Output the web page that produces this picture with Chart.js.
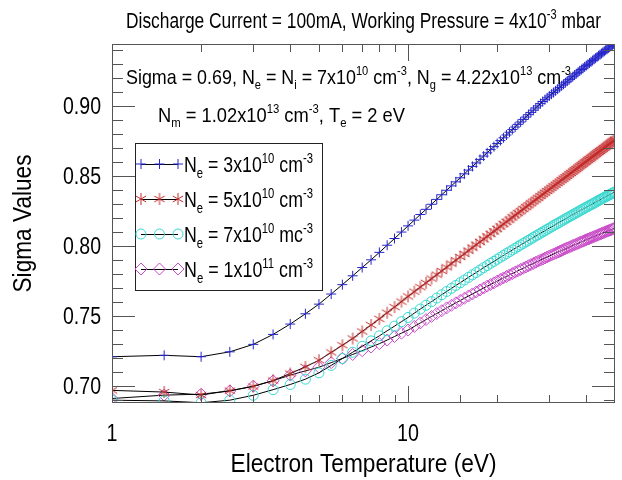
<!DOCTYPE html>
<html>
<head>
<meta charset="utf-8">
<script src="https://cdn.jsdelivr.net/npm/chart.js@4.4.1/dist/chart.umd.min.js"></script>
<style>
  body { margin: 0; background: #fff; }
  #wrap { width: 622px; height: 480px; }
</style>
</head>
<body>
<div id="wrap"><canvas id="sigma-chart" width="622" height="480"></canvas></div>
<script>
// Sigma vs electron temperature, four electron densities

const temperature = [
    1, 1.5, 2, 2.5, 3, 3.5, 4, 4.5, 5, 5.5,
    6, 6.5, 7, 7.5, 8, 8.5, 9, 9.5, 10, 10.5,
    11, 11.5, 12, 12.5, 13, 13.5, 14, 14.5, 15, 15.5,
    16, 16.5, 17, 17.5, 18, 18.5, 19, 19.5, 20, 20.5,
    21, 21.5, 22, 22.5, 23, 23.5, 24, 24.5, 25, 25.5,
    26, 26.5, 27, 27.5, 28, 28.5, 29, 29.5, 30, 30.5,
    31, 31.5, 32, 32.5, 33, 33.5, 34, 34.5, 35, 35.5,
    36, 36.5, 37, 37.5, 38, 38.5, 39, 39.5, 40, 40.5,
    41, 41.5, 42, 42.5, 43, 43.5, 44, 44.5, 45, 45.5,
    46, 46.5, 47, 47.5, 48, 48.5, 49, 49.5, 50
];

const sigmaNe3e10 = [
    .7210, .7220, .7210, .7245, .7298, .7369, .7443, .7516, .7585, .7657,
    .7724, .7787, .7846, .7901, .7954, .8005, .8053, .8099, .8143, .8184,
    .8224, .8261, .8297, .8332, .8365, .8397, .8428, .8457, .8486, .8514,
    .8541, .8567, .8592, .8617, .8641, .8664, .8687, .8708, .8730, .8751,
    .8771, .8791, .8811, .8830, .8848, .8867, .8884, .8902, .8919, .8936,
    .8952, .8968, .8984, .8999, .9015, .9030, .9043, .9056, .9069, .9082,
    .9094, .9106, .9118, .9130, .9142, .9153, .9164, .9175, .9186, .9197,
    .9207, .9218, .9228, .9238, .9248, .9258, .9267, .9277, .9286, .9295,
    .9304, .9313, .9322, .9331, .9339, .9348, .9356, .9364, .9372, .9380,
    .9388, .9396, .9403, .9411, .9418, .9426, .9433, .9440, .9447
];

const sigmaNe5e10 = [
    .6970, .6958, .6937, .6968, .6998, .7040, .7090, .7138, .7185, .7241,
    .7292, .7340, .7390, .7436, .7480, .7524, .7564, .7603, .7640, .7674,
    .7706, .7737, .7767, .7795, .7822, .7848, .7874, .7898, .7922, .7944,
    .7967, .7988, .8009, .8029, .8048, .8068, .8086, .8104, .8122, .8139,
    .8156, .8172, .8188, .8204, .8219, .8234, .8248, .8263, .8277, .8290,
    .8304, .8317, .8330, .8343, .8356, .8368, .8380, .8392, .8403, .8415,
    .8426, .8437, .8448, .8459, .8470, .8480, .8490, .8500, .8511, .8520,
    .8530, .8540, .8549, .8558, .8568, .8577, .8586, .8595, .8603, .8612,
    .8620, .8629, .8637, .8645, .8654, .8662, .8670, .8677, .8685, .8693,
    .8700, .8708, .8715, .8723, .8730, .8737, .8744, .8751, .8758
];

const sigmaNe7e10 = [
    .6900, .6895, .6882, .6900, .6935, .6975, .7012, .7050, .7095, .7148,
    .7197, .7242, .7284, .7323, .7359, .7395, .7428, .7460, .7490, .7521,
    .7550, .7577, .7603, .7628, .7652, .7675, .7697, .7718, .7738, .7757,
    .7776, .7794, .7811, .7828, .7845, .7860, .7876, .7890, .7905, .7919,
    .7932, .7946, .7958, .7971, .7983, .7995, .8007, .8018, .8029, .8040,
    .8050, .8061, .8071, .8081, .8090, .8100, .8109, .8118, .8127, .8136,
    .8145, .8153, .8161, .8169, .8177, .8185, .8193, .8200, .8208, .8215,
    .8222, .8229, .8236, .8243, .8250, .8257, .8263, .8270, .8276, .8282,
    .8289, .8294, .8300, .8306, .8312, .8318, .8324, .8329, .8335, .8340,
    .8346, .8351, .8356, .8361, .8366, .8371, .8376, .8381, .8386
];

const sigmaNe1e11 = [
    .6912, .6936, .6943, .6966, .7000, .7038, .7079, .7109, .7135, .7168,
    .7198, .7226, .7253, .7279, .7303, .7329, .7354, .7378, .7400, .7426,
    .7451, .7475, .7497, .7518, .7538, .7558, .7576, .7594, .7611, .7627,
    .7643, .7658, .7672, .7686, .7700, .7713, .7725, .7737, .7749, .7761,
    .7772, .7782, .7793, .7803, .7813, .7823, .7832, .7841, .7850, .7859,
    .7867, .7875, .7884, .7891, .7899, .7906, .7914, .7921, .7928, .7935,
    .7942, .7948, .7955, .7961, .7967, .7974, .7980, .7986, .7991, .7997,
    .8003, .8008, .8013, .8019, .8024, .8029, .8034, .8039, .8044, .8049,
    .8053, .8058, .8062, .8067, .8071, .8076, .8080, .8084, .8089, .8093,
    .8097, .8101, .8105, .8109, .8112, .8116, .8120, .8124, .8127
];

// text pieces: [text, 0 normal | 1 subscript | 2 superscript]
const seriesLabels = [
    [['N', 0], ['e', 1], [' = 3x10', 0], ['10', 2], [' cm', 0], ['-3', 2]],
    [['N', 0], ['e', 1], [' = 5x10', 0], ['10', 2], [' cm', 0], ['-3', 2]],
    [['N', 0], ['e', 1], [' = 7x10', 0], ['10', 2], [' mc', 0], ['-3', 2]],
    [['N', 0], ['e', 1], [' = 1x10', 0], ['11', 2], [' cm', 0], ['-3', 2]]
];

const titleText = [['Discharge Current = 100mA, Working Pressure = 4x10', 0], ['-3', 2], [' mbar', 0]];
const noteLine1 = [
    ['Sigma = 0.69, N', 0], ['e', 1], [' = N', 0], ['i', 1], [' = 7x10', 0], ['10', 2],
    [' cm', 0], ['-3', 2], [', N', 0], ['g', 1], [' = 4.22x10', 0], ['13', 2], [' cm', 0], ['-3', 2]
];
const noteLine2 = [
    ['N', 0], ['m', 1], [' = 1.02x10', 0], ['13', 2], [' cm', 0], ['-3', 2], [', T', 0], ['e', 1], [' = 2 eV', 0]
];
const xAxisTitle = 'Electron Temperature (eV)';
const yAxisTitle = 'Sigma Values';
const xLabelled = [1, 10];

const FONT = "'Liberation Sans', Arial, sans-serif";
const NARROW = 0.82;

// draws mixed normal/sub/superscript text, squeezed horizontally to look like a narrow face
function drawRich(ctx, segs, x, y, size, opts = {}) {
    const small = Math.round(size * 0.62);
    const parts = segs.map(([t, m]) => ({ t, m, f: (m ? small : size) + 'px ' + FONT }));
    let w = 0;
    parts.forEach(p => { ctx.font = p.f; p.w = ctx.measureText(p.t).width; w += p.w; });
    const sx = opts.width ? opts.width / w : NARROW;
    const total = w * sx;
    let start = x;
    if (opts.align === 'center') start = x - total / 2;
    if (opts.align === 'right') start = x - total;
    ctx.save();
    ctx.translate(start, y);
    ctx.scale(sx, 1);
    ctx.textAlign = 'left';
    ctx.textBaseline = 'alphabetic';
    let cx = 0;
    parts.forEach(p => {
        ctx.font = p.f;
        const dy = p.m === 1 ? size * 0.26 : p.m === 2 ? -size * 0.42 : 0;
        ctx.fillText(p.t, cx, dy);
        cx += p.w;
    });
    ctx.restore();
    return total;
}

// six-armed asterisk marker, like the plotting symbol in the original
function makeAsterisk(color, r) {
    const c = document.createElement('canvas');
    const s = r * 2 + 2;
    c.width = s; c.height = s;
    const g = c.getContext('2d');
    g.strokeStyle = color;
    g.lineWidth = 1;
    g.beginPath();
    [90, 30, -30].forEach(deg => {
        const a = deg * Math.PI / 180;
        g.moveTo(s / 2 - r * Math.cos(a), s / 2 - r * Math.sin(a));
        g.lineTo(s / 2 + r * Math.cos(a), s / 2 + r * Math.sin(a));
    });
    g.stroke();
    return c;
}

function toPoints(values) {
    return values.map((v, i) => ({ x: temperature[i], y: v }));
}

const series = [
    { data: sigmaNe3e10, color: '#2626cc', style: 'cross', radius: 5 },
    { data: sigmaNe5e10, color: '#c42c2c', style: makeAsterisk('#c42c2c', 6), radius: 6 },
    { data: sigmaNe7e10, color: '#3ad8d0', style: 'circle', radius: 5 },
    { data: sigmaNe1e11, color: '#c84ac8', style: 'rectRot', radius: 6 }
];

const decorations = {
    id: 'decorations',
    afterDraw(chart) {
        const ctx = chart.ctx;
        const area = chart.chartArea;
        const xs = chart.scales.x;
        const ys = chart.scales.y;
        ctx.save();

        // frame
        ctx.strokeStyle = '#555';
        ctx.lineWidth = 1;
        ctx.strokeRect(Math.round(area.left) + 0.5, Math.round(area.top) + 0.5,
            Math.round(area.right - area.left) - 1, Math.round(area.bottom - area.top) - 1);

        // inward tick marks on all four sides
        ctx.beginPath();
        xs.ticks.forEach(t => {
            const major = xLabelled.includes(t.value);
            if ((t.value <= xs.min || t.value >= xs.max) && !major) return;
            const len = major ? 17 : 8;
            const px = Math.round(xs.getPixelForValue(t.value)) + 0.5;
            ctx.moveTo(px, area.bottom); ctx.lineTo(px, area.bottom - len);
            ctx.moveTo(px, area.top); ctx.lineTo(px, area.top + len);
        });
        for (let k = 69; k <= 94; k++) {
            const len = k % 5 === 0 ? 23 : 11;
            const py = Math.round(ys.getPixelForValue(k / 100)) + 0.5;
            ctx.moveTo(area.left, py); ctx.lineTo(area.left + len, py);
            ctx.moveTo(area.right, py); ctx.lineTo(area.right - len, py);
        }
        ctx.stroke();

        ctx.fillStyle = '#000';

        // tick labels
        ys.ticks.forEach(t => {
            const py = ys.getPixelForValue(t.value);
            drawRich(ctx, [[t.value.toFixed(2), 0]], 101, py + 8, 23, { align: 'right', width: 38 });
        });
        xs.ticks.filter(t => xLabelled.includes(t.value)).forEach(t => {
            const px = xs.getPixelForValue(t.value);
            drawRich(ctx, [[String(t.value), 0]], px, 441, 24, { align: 'center' });
        });

        // axis titles
        drawRich(ctx, [[xAxisTitle, 0]], (area.left + area.right) / 2, 472, 26, { align: 'center', width: 266 });
        ctx.save();
        ctx.translate(31, (area.top + area.bottom) / 2);
        ctx.rotate(-Math.PI / 2);
        drawRich(ctx, [[yAxisTitle, 0]], 0, 0, 26, { align: 'center', width: 138 });
        ctx.restore();

        // title and notes
        drawRich(ctx, titleText, 126, 28, 22, { width: 475 });
        drawRich(ctx, noteLine1, 126, 84, 21, { width: 445 });
        drawRich(ctx, noteLine2, 158, 122, 21, { width: 247 });

        // legend box
        const box = { x: 135, y: 143, w: 187, h: 147 };
        ctx.fillStyle = '#fff';
        ctx.fillRect(box.x, box.y, box.w, box.h);
        ctx.strokeStyle = '#222';
        ctx.strokeRect(box.x + 0.5, box.y + 0.5, box.w, box.h);
        chart.data.datasets.forEach((ds, i) => {
            const rowY = 164 + i * 35;
            ctx.strokeStyle = '#000';
            ctx.lineWidth = 1;
            ctx.beginPath();
            ctx.moveTo(141, rowY + 0.5); ctx.lineTo(178, rowY + 0.5);
            ctx.stroke();
            [141, 159.5, 178].forEach(mx => {
                ctx.strokeStyle = ds.pointBorderColor;
                ctx.fillStyle = 'rgba(0,0,0,0)';
                ctx.lineWidth = 1;
                Chart.helpers.drawPoint(ctx, { pointStyle: ds.pointStyle, radius: ds.pointRadius, rotation: 0, borderWidth: 1 }, mx, rowY);
            });
            ctx.fillStyle = '#000';
            drawRich(ctx, seriesLabels[i], 184, rowY + 8, 22, { width: 129 });
        });

        ctx.restore();
    }
};

new Chart(document.getElementById('sigma-chart'), {
    type: 'line',
    data: {
        datasets: series.map(s => ({
            data: toPoints(s.data),
            borderColor: '#000',
            borderWidth: 1,
            pointStyle: s.style,
            pointRadius: s.radius,
            pointBorderColor: s.color,
            pointBackgroundColor: 'rgba(0,0,0,0)',
            pointBorderWidth: 1,
            tension: 0
        }))
    },
    options: {
        responsive: false,
        animation: false,
        devicePixelRatio: 1,
        layout: { padding: { top: 44, right: 2, left: 0, bottom: 0 } },
        plugins: {
            legend: { display: false },
            tooltip: { enabled: false }
        },
        scales: {
            x: {
                type: 'logarithmic',
                min: 1,
                max: 50,
                grid: { display: false, drawTicks: false },
                border: { display: false },
                ticks: { display: false, autoSkip: false },
                afterFit: scale => { scale.height = 77; }
            },
            y: {
                min: 0.688,
                max: 0.944,
                grid: { display: false, drawTicks: false },
                border: { display: false },
                ticks: { display: false, stepSize: 0.05, includeBounds: false },
                afterFit: scale => { scale.width = 112; }
            }
        }
    },
    plugins: [decorations]
});
</script>
</body>
</html>
